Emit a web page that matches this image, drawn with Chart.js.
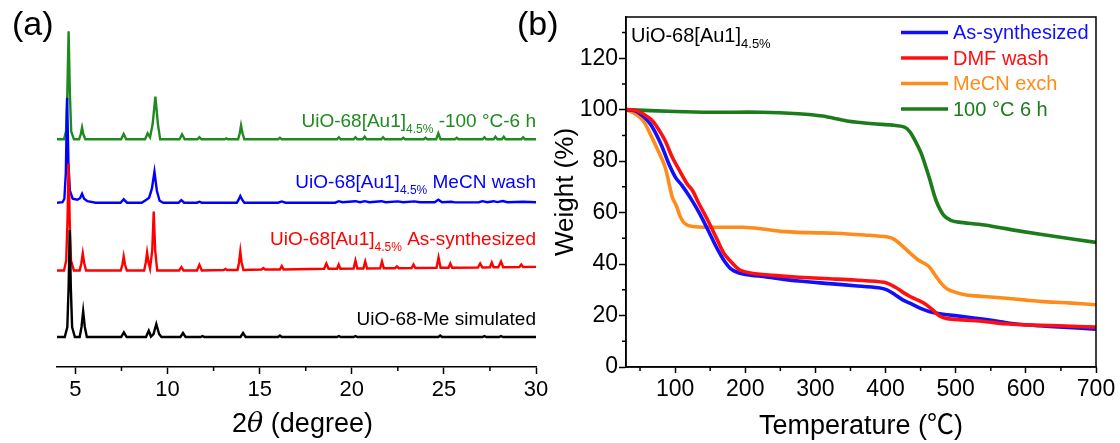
<!DOCTYPE html>
<html>
<head>
<meta charset="utf-8">
<script src="https://cdn.jsdelivr.net/npm/chart.js@4.4.1/dist/chart.umd.min.js"></script>
<style>
  html, body { margin: 0; padding: 0; background: #fff; }
  #wrap { position: relative; width: 1120px; height: 443px; overflow: hidden;
          font-family: "Liberation Sans", Arial, sans-serif; }
  canvas { position: absolute; top: 0; }
  #xrd { left: 0; }
  #tga { left: 540px; }
  .tag { position: absolute; font-size: 34px; line-height: 1; color: #000; }
</style>
</head>
<body>
<div id="wrap">
  <canvas id="xrd" width="560" height="443"></canvas>
  <canvas id="tga" width="580" height="443"></canvas>
  <div class="tag" style="left:12px;top:6px">(a)</div>
  <div class="tag" style="left:517px;top:6px">(b)</div>
</div>
<script>
const FONT = '"Liberation Sans", Arial, sans-serif';
Chart.defaults.font.family = FONT;
Chart.defaults.color = '#000';

// ---------- (a) PXRD patterns, [2theta, intensity above own baseline] ----------
const xrdTicks = [5, 10, 15, 20, 25, 30];
const xrdMinorTicks = [7.5, 12.5, 17.5, 22.5, 27.5];

const simPattern = [
  [4.0,0],[4.42,0],[4.56,10],[4.63,50],[4.69,107],[4.75,50],[4.82,10],[4.97,0],
  [5.23,0],[5.33,10],[5.42,25.6],[5.51,10],[5.62,0],
  [7.48,0],[7.63,4.7],[7.78,0],
  [8.83,0],[8.98,6.3],[9.1,0.5],[9.24,3],[9.39,13],[9.54,3],[9.67,0],
  [10.7,0],[10.84,4],[10.98,0],
  [11.8,0],[11.9,1],[12.0,0],
  [13.96,0],[14.1,4],[14.24,0],
  [16.0,0],[16.1,1.5],[16.2,0],
  [19.2,0],[19.3,1],[19.4,0],
  [20.1,0],[20.2,1],[20.3,0],
  [24.7,0],[24.8,1.5],[24.9,0],
  [27.1,0],[27.2,1],[27.3,0],
  [28.0,0],[28.1,1],[28.2,0],
  [30.0,0]
];

const asSynPattern = [
  [4.0,0],[4.38,0],[4.5,10],[4.57,50],[4.63,107],[4.69,50],[4.76,10],[4.92,0],
  [5.23,0],[5.32,7],[5.4,17],[5.48,7],[5.58,0],
  [7.46,0],[7.55,6],[7.62,14],[7.69,6],[7.79,0],
  [8.73,0],[8.82,8],[8.89,18],[8.97,8],[9.05,2],[9.17,20],[9.25,59],[9.33,20],[9.44,0],
  [10.63,0],[10.75,3.3],[10.87,0],
  [11.6,0],[11.73,5.7],[11.86,0],
  [13.05,0.5],[13.14,1.5],[13.23,0.5],
  [13.8,0.5],[13.88,8],[13.95,19],[14.02,8],[14.12,0.5],
  [15.1,1],[15.2,2.5],[15.3,1],
  [16.1,1],[16.2,4.5],[16.3,1],
  [18.5,1.7],[18.62,7],[18.74,1.7],
  [19.2,1.8],[19.29,6],[19.38,1.8],
  [20.1,2],[20.2,10],[20.3,2],
  [20.63,2],[20.73,9],[20.83,2],
  [21.54,2.2],[21.64,9],[21.74,2.2],
  [22.35,2.3],[22.45,4],[22.55,2.3],
  [23.25,2.5],[23.35,6],[23.45,2.5],
  [24.6,2.7],[24.71,13],[24.82,2.7],
  [25.25,2.8],[25.35,7],[25.45,2.8],
  [26.85,3],[26.97,7],[27.09,3],
  [27.5,3.2],[27.6,8],[27.7,3.2],
  [27.95,3.3],[28.1,9],[28.22,3.3],
  [29.1,3.5],[29.2,6],[29.3,3.5],
  [30.0,3.6]
];

const mecnWashPattern = [
  [4.0,0],[4.3,0.5],[4.4,4],[4.48,30],[4.55,105],[4.62,40],[4.7,12],[4.85,4],
  [5.1,3],[5.25,4.5],[5.36,9],[5.47,4],[5.65,1.5],[6.1,0],
  [7.45,0],[7.62,3.4],[7.8,0],
  [8.6,0],[8.85,3],[9.0,5],[9.15,14],[9.29,31],[9.42,12],[9.57,2],[9.77,0],
  [10.6,0],[10.75,2.5],[10.9,0],
  [11.6,0],[11.73,1],[11.86,0],
  [13.76,0],[13.86,3],[13.95,6.7],[14.05,3],[14.17,0],
  [16.0,0],[16.2,1.3],[16.4,0],
  [19.1,0],[19.3,1.5],[19.5,0.5],[20.2,1.5],[20.45,0.5],[20.7,1.5],[20.95,0.5],
  [21.6,1.5],[21.85,0.5],[22.5,1.3],[22.8,0.5],[23.4,1.3],[23.7,0.5],
  [24.5,0.5],[24.7,3],[24.9,0.5],
  [25.4,1],[25.6,0.3],
  [26.9,0.5],[27.1,1.5],[27.35,0.5],[27.7,1.5],[27.9,0.6],[28.2,1.6],[28.45,0.5],
  [29.3,1],[30.0,0.5]
];

const heatedPattern = [
  [4.0,0],[4.38,0],[4.49,8],[4.56,45],[4.63,108],[4.7,45],[4.77,8],[4.92,0],
  [5.2,0],[5.29,5],[5.36,11.7],[5.43,5],[5.54,0],
  [7.48,0],[7.62,5.3],[7.76,0],
  [8.78,0],[8.92,6],[9.05,2],[9.19,15],[9.34,42.7],[9.48,15],[9.6,0],
  [10.65,0],[10.79,5],[10.93,0],
  [11.62,0],[11.73,2],[11.84,0],
  [13.1,0],[13.19,1],[13.28,0],
  [13.83,0],[13.92,6],[13.99,13.7],[14.07,6],[14.17,0],
  [16.0,0],[16.1,1.5],[16.2,0],
  [19.2,0],[19.3,2],[19.4,0],
  [20.1,0],[20.2,2],[20.3,0],
  [20.6,0],[20.7,2.5],[20.8,0],
  [21.6,0],[21.7,2],[21.8,0],
  [22.7,0],[22.8,1.5],[22.9,0],
  [23.9,0],[24.0,1.5],[24.1,0],
  [24.58,0],[24.7,6],[24.82,0],
  [25.6,0],[25.7,1.5],[25.8,0],
  [27.1,0],[27.2,2],[27.3,0],
  [27.7,0],[27.8,2.5],[27.9,0],
  [28.15,0],[28.25,2.5],[28.35,0],
  [29.2,0],[29.3,2],[29.4,0],
  [30.0,0]
];

const xrdNames = [
  ['UiO-68-Me simulated', '', ''],
  ['UiO-68[Au1]', '4.5%', ' As-synthesized'],
  ['UiO-68[Au1]', '4.5%', ' MeCN wash'],
  ['UiO-68[Au1]', '4.5%', ' -100 \u00B0C-6 h']
];

// ---------- (b) TGA curves, [temperature in °C, weight %] ----------
const tgaXTicks = [100, 200, 300, 400, 500, 600, 700];
const tgaXMinor = [50, 150, 250, 350, 450, 550, 650];
const tgaYTicks = [0, 20, 40, 60, 80, 100, 120];
const tgaYMinor = [10, 30, 50, 70, 90, 110, 130];

const tgaAsSyn = [
  [30,100],[45,99.3],[64.5,94.5],[80,86.5],[91,79],[101,73.5],[110,70.5],[120,66.5],
  [130,62],[140,57],[150,51.5],[160,46],[170,41.3],[180,38],[190,36.6],[200,36],
  [230,35],[276,33.4],[320,32.4],[356,31.6],[390,30.8],[402,30],[414,28],[425,26],
  [437,24.5],[450,22.8],[462,21.6],[475,20.8],[488,20.3],[510,19.6],[541,18.5],
  [570,17.3],[594,16.5],[620,16],[647,15.6],[700,14.7]
];
const tgaDmf = [
  [30,100],[45,99.6],[64.5,96.5],[75,93],[85.7,88],[96,81.5],[107,76],[117.5,71],
  [125,68.5],[133,64],[146.6,57],[160,49.5],[170,44],[181,40.5],[191.6,37.8],[207,36.5],
  [240,35.6],[276,34.9],[320,34.3],[356,33.8],[398,32.9],[414,31],[425,29],[435,27.4],
  [446,26],[456,24.6],[468,22],[477.6,19.7],[488,18.8],[510,18.3],[541,17.7],[570,16.8],
  [594,16.4],[647,16],[700,15.5]
];
const tgaMecn = [
  [30,100],[43,98.4],[55,95.5],[64.5,90.6],[75,84.5],[85.7,77.7],[96,66],[102,62.5],
  [108,58],[115,55.5],[125,54.6],[150,54.3],[197,54.3],[220,53.8],[250,52.7],[290,52.2],
  [329,52],[370,51.3],[403,50.5],[413,49.5],[425,46.8],[436,44],[446,41.7],[455,40.3],
  [462,39],[472,35.2],[480,32.3],[488,30.3],[500,29],[515,28],[540,27.4],[568,26.8],
  [600,26],[621,25.5],[660,24.9],[700,24.2]
];
const tgaHeated = [
  [30,100],[100,99.3],[150,99],[223,99],[276,98.4],[310,97.5],[345,95.6],[382,94.5],
  [410,94],[427,93.2],[435,91.3],[443,87.5],[451,82.9],[462,73.8],[472,64.7],[483,58.9],
  [493,57],[504,56.3],[541,55.2],[594,52.7],[647,50.5],[700,48.4]
];
const tgaNames = ['As-synthesized', 'DMF wash', 'MeCN exch', '100 \u00B0C 6 h'];

// ---------- helpers ----------
const toPts = (arr, off = 0) => arr.map(([x, y]) => ({ x, y: y + off }));

// text with a subscript piece in the middle
function drawSubText(ctx, main, sub, tail, x, y, align, color, size, subSize) {
  const parts = [[main, size, 0], [sub, subSize, 6], [tail, size, 0]];
  const widths = parts.map(p => { ctx.font = p[1] + 'px ' + FONT; return ctx.measureText(p[0]).width; });
  let cx = align === 'right' ? x - widths.reduce((a, b) => a + b, 0) : x;
  ctx.fillStyle = color;
  ctx.textAlign = 'left';
  ctx.textBaseline = 'alphabetic';
  parts.forEach((p, i) => {
    ctx.font = p[1] + 'px ' + FONT;
    ctx.fillText(p[0], cx, y + p[2]);
    cx += widths[i];
  });
}

const minorTicks = {
  id: 'minorTicks',
  afterDraw(chart, args, opts) {
    const { ctx, chartArea: a } = chart;
    ctx.save();
    ctx.strokeStyle = '#000';
    ctx.lineWidth = 1.5;
    ctx.beginPath();
    (opts.x || []).forEach(v => {
      const px = chart.scales.x.getPixelForValue(v);
      ctx.moveTo(px, a.bottom); ctx.lineTo(px, a.bottom + opts.len);
    });
    (opts.y || []).forEach(v => {
      const py = chart.scales.y.getPixelForValue(v);
      ctx.moveTo(a.left, py); ctx.lineTo(a.left - opts.len, py);
    });
    ctx.stroke();
    ctx.restore();
  }
};

const fixedTicks = list => scale => { scale.ticks = list.map(v => ({ value: v })); };

// ---------- (a) chart ----------
const xrdColors = ['#000000', '#ff0000', '#0000ff', '#1f8a1f'];
const xrdOffsets = [30, 96.5, 164.3, 227.7];
const xrdSeries = [simPattern, asSynPattern, mecnWashPattern, heatedPattern];

const xrdLabels = {
  id: 'xrdLabels',
  afterDatasetsDraw(chart) {
    const ctx = chart.ctx;
    const right = chart.chartArea.right;
    const ys = [325, 245, 188, 127];
    ctx.save();
    xrdNames.forEach((n, i) => {
      drawSubText(ctx, n[0], n[1], n[2], right, ys[i], 'right', xrdColors[i], 19, 12);
    });
    // axis title with italic theta
    const cx = (chart.chartArea.left + chart.chartArea.right) / 2 + 6;
    const pieces = [['2', 'normal 27px ' + FONT], ['\u03B8', 'italic 27px "DejaVu Serif", serif'], [' (degree)', 'normal 27px ' + FONT]];
    const w = pieces.map(p => { ctx.font = p[1]; return ctx.measureText(p[0]).width; });
    let x = cx - w.reduce((a, b) => a + b, 0) / 2;
    ctx.fillStyle = '#000';
    ctx.textBaseline = 'alphabetic';
    pieces.forEach((p, i) => { ctx.font = p[1]; ctx.fillText(p[0], x, 432); x += w[i]; });
    ctx.restore();
  }
};

new Chart(document.getElementById('xrd'), {
  type: 'line',
  data: {
    datasets: xrdSeries.map((s, i) => ({
      data: toPts(s, xrdOffsets[i]),
      borderColor: xrdColors[i],
      borderWidth: 2.4,
      pointRadius: 0,
      tension: 0
    }))
  },
  options: {
    responsive: false,
    animation: false,
    devicePixelRatio: 1,
    layout: { padding: { left: 57, right: 24, top: 20, bottom: 0 } },
    plugins: {
      legend: { display: false },
      tooltip: { enabled: false },
      minorTicks: { x: xrdMinorTicks, len: 4 }
    },
    scales: {
      x: {
        type: 'linear', min: 4, max: 30,
        afterBuildTicks: fixedTicks(xrdTicks),
        afterFit: s => { s.height = 76; },
        grid: { drawOnChartArea: false, tickLength: 7, tickWidth: 1.5, tickColor: '#000' },
        border: { color: '#000', width: 1.5 },
        ticks: { font: { size: 22 }, color: '#000', padding: 3, maxRotation: 0 }
      },
      y: { display: false, min: 0, max: 347 }
    }
  },
  plugins: [minorTicks, xrdLabels]
});

// ---------- (b) chart ----------
const tgaColors = ['#1010ff', '#ff0f0f', '#ff8c1a', '#1c7c1c'];
const tgaSeries = [tgaAsSyn, tgaDmf, tgaMecn, tgaHeated];
const tgaOrder = [1, 0, 2, 3];

const tgaDecor = {
  id: 'tgaDecor',
  afterDraw(chart) {
    const { ctx, chartArea: a } = chart;
    ctx.save();
    ctx.strokeStyle = '#000';
    ctx.lineWidth = 1.5;
    ctx.strokeRect(a.left, a.top, a.right - a.left, a.bottom - a.top);
    drawSubText(ctx, 'UiO-68[Au1]', '4.5%', '', a.left + 5, 42, 'left', '#000', 20, 13);
    // legend
    ctx.lineWidth = 3.5;
    ctx.font = '20px ' + FONT;
    ctx.textBaseline = 'middle';
    tgaNames.forEach((name, i) => {
      const y = 32.5 + i * 25.5;
      ctx.strokeStyle = tgaColors[i];
      ctx.beginPath(); ctx.moveTo(361, y); ctx.lineTo(408, y); ctx.stroke();
      ctx.fillStyle = tgaColors[i];
      ctx.fillText(name, 413, y + 1);
    });
    ctx.restore();
  }
};

new Chart(document.getElementById('tga'), {
  type: 'line',
  data: {
    datasets: tgaSeries.map((s, i) => ({
      label: tgaNames[i],
      data: toPts(s),
      borderColor: tgaColors[i],
      borderWidth: 3.6,
      pointRadius: 0,
      tension: 0.3,
      order: tgaOrder[i]
    }))
  },
  options: {
    responsive: false,
    animation: false,
    devicePixelRatio: 1,
    layout: { padding: { left: 0, right: 24, top: 17, bottom: 0 } },
    plugins: {
      legend: { display: false },
      tooltip: { enabled: false },
      minorTicks: { x: tgaXMinor, y: tgaYMinor, len: 4 }
    },
    scales: {
      x: {
        type: 'linear', min: 30, max: 700,
        afterBuildTicks: fixedTicks(tgaXTicks),
        afterFit: s => { s.height = 76; },
        grid: { drawOnChartArea: false, tickLength: 6, tickWidth: 1.5, tickColor: '#000' },
        border: { color: '#000', width: 1.5 },
        ticks: { font: { size: 23 }, color: '#000', padding: 3, maxRotation: 0 },
        title: { display: true, text: 'Temperature (\u2103)', color: '#000',
                 font: { size: 27, family: '"Liberation Sans", "Noto Sans CJK SC", sans-serif' },
                 padding: { top: 0, bottom: 0 } }
      },
      y: {
        min: 0, max: 136,
        afterBuildTicks: fixedTicks(tgaYTicks),
        afterFit: s => { s.width = 86; },
        grid: { drawOnChartArea: false, tickLength: 7, tickWidth: 1.5, tickColor: '#000' },
        border: { color: '#000', width: 1.5 },
        ticks: { font: { size: 23 }, color: '#000', padding: 1 },
        title: { display: true, text: 'Weight (%)', color: '#000', font: { size: 26 },
                 padding: { top: 10, bottom: 0 } }
      }
    }
  },
  plugins: [minorTicks, tgaDecor]
});
</script>
</body>
</html>
